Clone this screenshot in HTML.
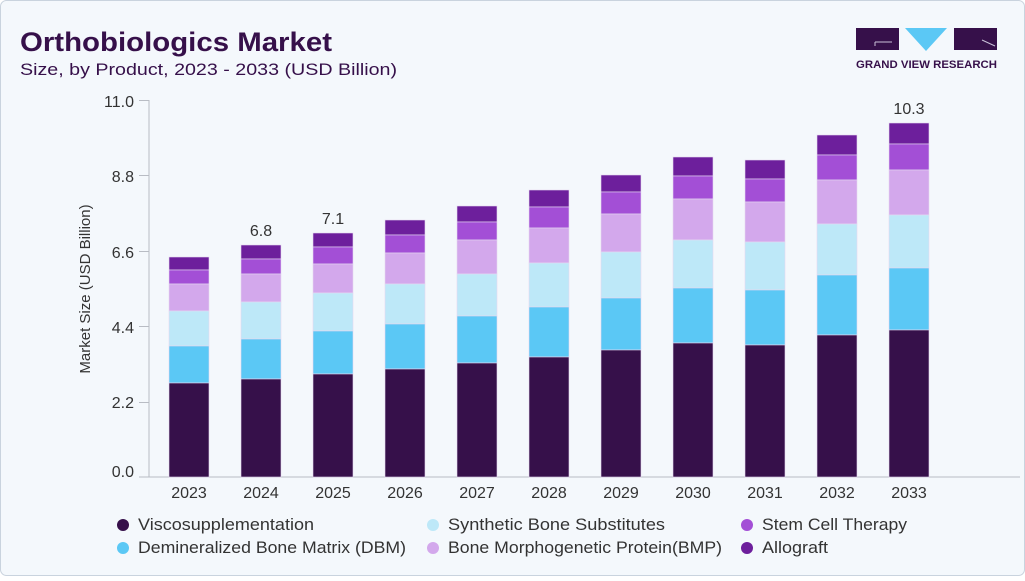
<!DOCTYPE html>
<html><head><meta charset="utf-8"><style>
html,body{margin:0;padding:0;background:#fff}
body{width:1025px;height:576px;overflow:hidden;font-family:"Liberation Sans",sans-serif}
</style></head><body>
<svg width="1025" height="576" xmlns="http://www.w3.org/2000/svg" font-family="Liberation Sans, sans-serif">
<rect x="0.5" y="0.5" width="1024" height="575" rx="6" fill="#f4f8fc" stroke="#c9d3de"/>
<text x="20" y="51" font-size="27" font-weight="bold" fill="#36104a" textLength="312" lengthAdjust="spacingAndGlyphs">Orthobiologics Market</text>
<text x="20" y="75" font-size="17" fill="#36104a" textLength="377" lengthAdjust="spacingAndGlyphs">Size, by Product, 2023 - 2033 (USD Billion)</text>
<!-- logo -->
<rect x="856" y="28" width="43" height="22" fill="#36104a"/>
<line x1="875" y1="42" x2="892" y2="42" stroke="#c9c0d8" stroke-width="1"/>
<line x1="875" y1="42" x2="875" y2="46" stroke="#c9c0d8" stroke-width="1"/>
<polygon points="905,28 947,28 926,51" fill="#5bc8f5"/>
<rect x="954" y="28" width="43" height="22" fill="#36104a"/>
<line x1="982" y1="40" x2="995" y2="46" stroke="#c9c0d8" stroke-width="1"/>
<text x="856" y="68" font-size="11" font-weight="bold" fill="#36104a" textLength="141" lengthAdjust="spacingAndGlyphs">GRAND VIEW RESEARCH</text>
<!-- axes -->
<g stroke="#b8bcc4" stroke-width="1">
<line x1="149" y1="100" x2="149" y2="477"/>
<line x1="139" y1="477" x2="1020" y2="477"/>
<line x1="139" y1="100.5" x2="149" y2="100.5"/>
<line x1="139" y1="175.5" x2="149" y2="175.5"/>
<line x1="139" y1="251.5" x2="149" y2="251.5"/>
<line x1="139" y1="326.5" x2="149" y2="326.5"/>
<line x1="139" y1="402.5" x2="149" y2="402.5"/>
</g>
<g font-size="16" fill="#333" text-anchor="end">
<text x="134" y="107">11.0</text><text x="134" y="182">8.8</text><text x="134" y="258">6.6</text>
<text x="134" y="333">4.4</text><text x="134" y="408">2.2</text><text x="134" y="477">0.0</text>
</g>
<text transform="translate(90,289) rotate(-90)" font-size="15" fill="#333" text-anchor="middle">Market Size (USD Billion)</text>
<g id="bars"></g>
<g font-size="16" fill="#333" text-anchor="middle">
<text x="189" y="498">2023</text><text x="261" y="498">2024</text><text x="333" y="498">2025</text>
<text x="405" y="498">2026</text><text x="477" y="498">2027</text><text x="549" y="498">2028</text>
<text x="621" y="498">2029</text><text x="693" y="498">2030</text><text x="765" y="498">2031</text>
<text x="837" y="498">2032</text><text x="909" y="498">2033</text>
<text x="261" y="236">6.8</text><text x="333" y="224">7.1</text><text x="909" y="114">10.3</text>
</g>
<g font-size="17" fill="#333" lengthAdjust="spacingAndGlyphs">
<circle cx="123" cy="525" r="6" fill="#36104a"/><text x="138" y="530" textLength="176" lengthAdjust="spacingAndGlyphs">Viscosupplementation</text>
<circle cx="123" cy="548" r="6" fill="#5bc8f5"/><text x="138" y="553" textLength="268" lengthAdjust="spacingAndGlyphs">Demineralized Bone Matrix (DBM)</text>
<circle cx="433" cy="525" r="6" fill="#bde8f8"/><text x="448" y="530" textLength="217" lengthAdjust="spacingAndGlyphs">Synthetic Bone Substitutes</text>
<circle cx="433" cy="548" r="6" fill="#d3a8ec"/><text x="448" y="553" textLength="274" lengthAdjust="spacingAndGlyphs">Bone Morphogenetic Protein(BMP)</text>
<circle cx="747" cy="525" r="6" fill="#a34fd6"/><text x="762" y="530" textLength="145" lengthAdjust="spacingAndGlyphs">Stem Cell Therapy</text>
<circle cx="747" cy="548" r="6" fill="#6d1f9c"/><text x="762" y="553" textLength="66" lengthAdjust="spacingAndGlyphs">Allograft</text>
</g>
</svg>
<script>
var d=[[257,270,284,311,346,383],[245,259,274,302,339,379],[233,247,264,293,331,374],[220,235,253,284,324,369],[206,222,240,274,316,363],[190,207,228,263,307,357],[175,192,214,252,298,350],[157,176,199,240,288,343],[160,179,202,242,290,345],[135,155,180,224,275,335],[123,144,170,215,268,330]];
var c=["#6d1f9c","#a34fd6","#d3a8ec","#bde8f8","#5bc8f5","#36104a"];
var g=document.getElementById("bars"),s="";
d.forEach(function(b,i){var x=169+72*i;for(var k=0;k<6;k++){var y0=b[k],y1=k<5?b[k+1]:477;
s+='<rect x="'+x+'" y="'+y0+'" width="40" height="'+(y1-y0)+'" fill="'+c[k]+'" stroke="#e4d8f0" stroke-width="0.6"/>';}});
g.innerHTML=s;
</script>
</body></html>
